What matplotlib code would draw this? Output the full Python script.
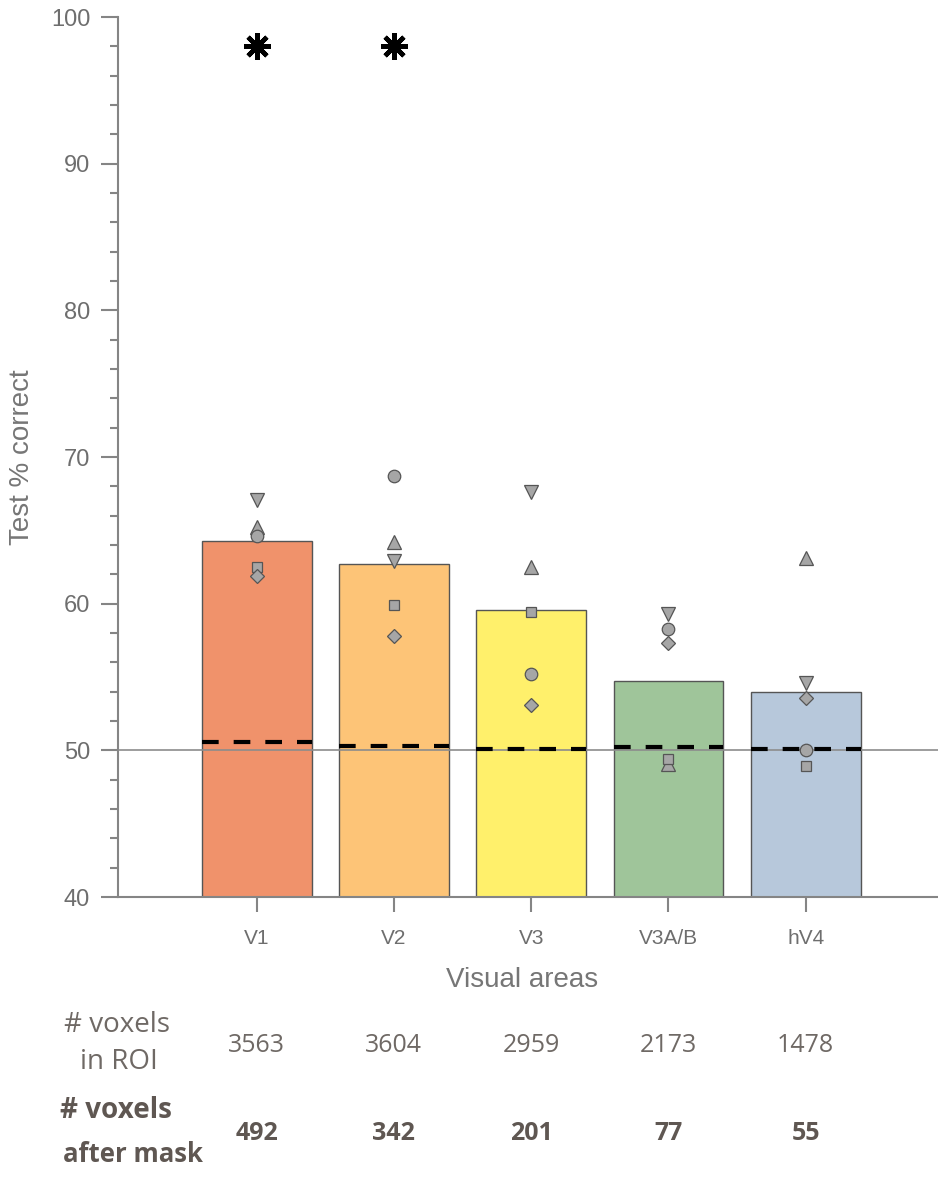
import matplotlib
matplotlib.use("Agg")
import matplotlib.pyplot as plt
import matplotlib.transforms as mtransforms
from matplotlib.ticker import MultipleLocator

# ------------------------------------------------------------
# Decoding accuracy per visual area (group mean + individual subjects)
# ------------------------------------------------------------

AREAS = ["V1", "V2", "V3", "V3A/B", "hV4"]
MEAN_CORRECT = [64.3, 62.7, 59.6, 54.7, 54.0]
CHANCE_LEVEL = [50.6, 50.3, 50.1, 50.2, 50.1]

# one list per subject (marker shape)
SUBJ_DOWN = [67.1, 62.9, 67.6, 59.3, 54.6]
SUBJ_UP = [65.2, 64.2, 62.5, 49.1, 63.1]
SUBJ_CIRCLE = [64.6, 68.7, 55.2, 58.3, 50.0]
SUBJ_SQUARE = [62.5, 59.9, 59.4, 49.4, 48.9]
SUBJ_DIAMOND = [61.9, 57.8, 53.1, 57.3, 53.6]

SIGNIFICANT = [True, True, False, False, False]

VOXELS_ROI = [3563, 3604, 2959, 2173, 1478]
VOXELS_MASK = [492, 342, 201, 77, 55]

BAR_COLORS = ["#f0926b", "#fdc477", "#fff06b", "#9fc59a", "#b7c8db"]

AXIS_GRAY = "#858585"
TEXT_GRAY = "#6e6e6e"
ROW_GRAY = "#6f6965"
ROW_BOLD = "#5f5752"
MARKER_FILL = "#a6a6a6"
MARKER_EDGE = "#555555"

BAR_WIDTH = 0.80
STAR_Y = 98.0


def set_plot_style() -> None:
    plt.rcParams.update({
        "font.family": ["Liberation Sans", "DejaVu Sans"],
        "font.size": 15,
        "axes.spines.top": False,
        "axes.spines.right": False,
        "axes.edgecolor": AXIS_GRAY,
        "axes.linewidth": 1.5,
        "xtick.color": AXIS_GRAY,
        "ytick.color": AXIS_GRAY,
        "xtick.labelcolor": TEXT_GRAY,
        "ytick.labelcolor": TEXT_GRAY,
    })


def subject_markers(ax, xs) -> None:
    subjects = [
        (SUBJ_DOWN, "v", 9.5),
        (SUBJ_UP, "^", 9.5),
        (SUBJ_CIRCLE, "o", 9.0),
        (SUBJ_SQUARE, "s", 7.5),
        (SUBJ_DIAMOND, "D", 6.8),
    ]
    for vals, mk, ms in subjects:
        ax.plot(xs, vals, linestyle="none", marker=mk, markersize=ms,
                markerfacecolor=MARKER_FILL, markeredgecolor=MARKER_EDGE,
                markeredgewidth=0.9, zorder=6, clip_on=False)


def count_rows(fig, ax, xs) -> None:
    trans = mtransforms.blended_transform_factory(ax.transData, fig.transFigure)
    H = 1177.0
    W = 938.0

    def fy(px):
        return 1.0 - px / H

    row_font = ["Open Sans", "DejaVu Sans"]

    fig.text(117 / W, fy(1025), "# voxels", ha="center", va="center",
             fontsize=20, color=ROW_GRAY, family=row_font)
    fig.text(119 / W, fy(1062), "in ROI", ha="center", va="center",
             fontsize=20, color=ROW_GRAY, family=row_font)
    fig.text(116 / W, fy(1110), "# voxels", ha="center", va="center",
             fontsize=20, color=ROW_BOLD, family=row_font, fontweight="bold")
    fig.text(133 / W, fy(1155), "after mask", ha="center", va="center",
             fontsize=18.5, color=ROW_BOLD, family=row_font, fontweight="bold")

    for x, n_roi, n_mask in zip(xs, VOXELS_ROI, VOXELS_MASK):
        fig.text(x, fy(1045), f"{n_roi}", transform=trans, ha="center",
                 va="center", fontsize=18, color=ROW_GRAY, family=row_font)
        fig.text(x, fy(1133), f"{n_mask}", transform=trans, ha="center",
                 va="center", fontsize=18, color=ROW_BOLD, family=row_font,
                 fontweight="bold")


def main() -> None:
    set_plot_style()

    fig = plt.figure(figsize=(9.38, 11.77), dpi=100)
    ax = fig.add_axes([118 / 938, 1 - 897 / 1177, 1 - 118 / 938, (897 - 17) / 1177])

    xs = list(range(len(AREAS)))

    ax.bar(xs, [m - 40 for m in MEAN_CORRECT], bottom=40, width=BAR_WIDTH,
           color=BAR_COLORS, edgecolor="#555555", linewidth=1.0, zorder=2)

    # theoretical chance
    ax.axhline(50, color="#8c8c8c", linewidth=1.2, zorder=3)

    # empirical chance (permutation) per area
    for x, c in zip(xs, CHANCE_LEVEL):
        ax.plot([x - BAR_WIDTH / 2, x + BAR_WIDTH / 2], [c, c], color="black",
                linewidth=3.0, dashes=(4.0, 3.6), solid_capstyle="butt",
                dash_capstyle="butt", zorder=4)

    subject_markers(ax, xs)

    star_x = [x for x, s in zip(xs, SIGNIFICANT) if s]
    ax.plot(star_x, [STAR_Y] * len(star_x), linestyle="none", marker=(8, 2, 0),
            markersize=19, markeredgewidth=3.3, color="black", zorder=6)

    ax.set_xlim(-1.01, 4.964)
    ax.set_ylim(40, 100)

    ax.yaxis.set_major_locator(MultipleLocator(10))
    ax.yaxis.set_minor_locator(MultipleLocator(2))
    ax.tick_params(axis="y", which="major", length=12, width=1.5, pad=8,
                   labelsize=17)
    ax.tick_params(axis="y", which="minor", length=6, width=1.5)

    ax.set_xticks(xs)
    ax.set_xticklabels(AREAS)
    ax.tick_params(axis="x", which="major", length=11, width=1.5, pad=12,
                   labelsize=15)

    ax.set_ylabel("Test % correct", fontsize=20, color="#767676", va="center")
    ax.yaxis.set_label_coords(-0.117, 0.5)
    ax.set_xlabel("Visual areas", fontsize=20, color="#767676", va="center")
    ax.xaxis.set_label_coords(0.493, -0.0943)

    count_rows(fig, ax, xs)

    fig.savefig("out.png", dpi=100)
    plt.close(fig)


if __name__ == "__main__":
    main()
